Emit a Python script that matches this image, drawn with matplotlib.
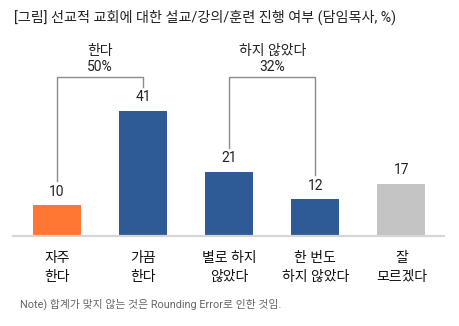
import matplotlib
matplotlib.use("Agg")
import matplotlib.pyplot as plt

plt.rcParams['font.family'] = ['Roboto', 'Noto Sans CJK KR']

categories = ["자주\n한다", "가끔\n한다", "별로 하지\n않았다", "한 번도\n하지 않았다", "잘\n모르겠다"]
values = [10, 41, 21, 12, 17]
colors = ["#FF7733", "#2E5A96", "#2E5A96", "#2E5A96", "#C4C4C4"]
title = "[그림] 선교적 교회에 대한 설교/강의/훈련 진행 여부 (담임목사, %)"
note = "Note) 합계가 맞지 않는 것은 Rounding Error로 인한 것임."
group_names = ["한다", "하지 않았다"]
group_totals = ["50%", "32%"]
groups = [(0, 1), (2, 3)]

W, H = 459, 326
fig = plt.figure(figsize=(W / 100, H / 100), dpi=100)

left_px, right_px, base_px, top_px = 13, 444, 235.7, 40
ax = fig.add_axes([left_px / W, (H - base_px) / H, (right_px - left_px) / W, (base_px - top_px) / H])
px_per_unit = 3.04
ax.set_xlim(-0.511, 4.495)
ax.set_ylim(0, (base_px - top_px) / px_per_unit)

x = list(range(len(values)))
ax.bar(x, values, width=0.56, color=colors)

for xi, v in zip(x, values):
    ax.text(xi, v + 4.5, str(v), ha='center', va='center', fontsize=10, color='#222222')

for sp in ['top', 'right', 'left']:
    ax.spines[sp].set_visible(False)
ax.spines['bottom'].set_color('#D6D6D6')
ax.spines['bottom'].set_linewidth(1.6)
ax.set_yticks([])
ax.set_xticks(x)
ax.set_xticklabels(categories, fontsize=10, linespacing=1.45, color='#111111')
ax.tick_params(axis='x', length=0, pad=11)

bracket_top = 52.3
for (a, b), name, tot in zip(groups, group_names, group_totals):
    ya = values[a] + 8
    yb = values[b] + 8
    ax.plot([a, a, b, b], [ya, bracket_top, bracket_top, yb], color='#8C8C8C', lw=1.0, clip_on=False)
    xm = (a + b) / 2
    ax.text(xm, bracket_top + 3.3, tot, ha='center', va='center', fontsize=10,
            color='#222222', clip_on=False)
    ax.text(xm, bracket_top + 8.4, name, ha='center', va='center', fontsize=10,
            color='#222222', clip_on=False)

fig.text(14 / W, 1 - 17 / H, title, ha='left', va='center', fontsize=10.2, color='#222222')
fig.text(20 / W, 1 - 304 / H, note, ha='left', va='center', fontsize=7.8, color='#666666')

fig.savefig("out.png", dpi=100)
